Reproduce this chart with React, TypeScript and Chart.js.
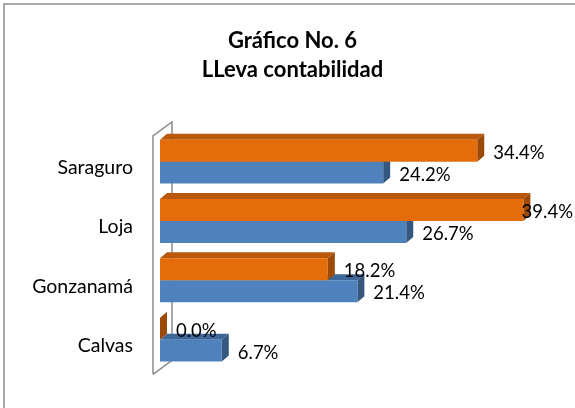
import React, { useEffect, useRef } from "react";
import { Chart, registerables } from "chart.js";

Chart.register(...registerables);

// ---- data ----
const categories = ["Saraguro", "Loja", "Gonzanamá", "Calvas"];
const seriesNames = ["Serie 1", "Serie 2"];
const serieNaranja = [34.4, 39.4, 18.2, 0.0];
const serieAzul = [24.2, 26.7, 21.4, 6.7];
const titleLines = ["Gráfico No. 6", "LLeva contabilidad"];

// ---- styles ----
const frontColors = ["#E46C0A", "#4F81BD"];
const topColors = ["#B9570A", "#3D6699"];
const sideColors = ["#9C4A07", "#36577F"];
const FONT = "Lato, 'Open Sans', sans-serif";
const DX = 7;
const DY = 6;

const threeDPlugin = {
  id: "threeD",
  beforeDatasetsDraw(chart: any) {
    const ctx = chart.ctx;
    const a = chart.chartArea;
    ctx.save();
    // 3D wall outline
    ctx.strokeStyle = "#8C8C8C";
    ctx.lineWidth = 1.5;
    const fx = a.left - 7;
    const bx = a.left + 12;
    ctx.beginPath();
    ctx.moveTo(fx, a.bottom + 5);
    ctx.lineTo(fx, a.top + 4);
    ctx.lineTo(bx, a.top - 10);
    ctx.lineTo(bx, a.bottom - 9);
    ctx.lineTo(fx, a.bottom + 5);
    ctx.stroke();
    // depth faces
    for (let d = chart.data.datasets.length - 1; d >= 0; d--) {
      const meta = chart.getDatasetMeta(d);
      meta.data.forEach((el: any) => {
        const p = el.getProps(["x", "y", "base", "height"], true);
        const top = p.y - p.height / 2;
        const bot = p.y + p.height / 2;
        ctx.fillStyle = topColors[d];
        ctx.beginPath();
        ctx.moveTo(p.base, top);
        ctx.lineTo(p.base + DX, top - DY);
        ctx.lineTo(p.x + DX, top - DY);
        ctx.lineTo(p.x, top);
        ctx.closePath();
        ctx.fill();
        ctx.fillStyle = sideColors[d];
        ctx.beginPath();
        ctx.moveTo(p.x, top);
        ctx.lineTo(p.x + DX, top - DY);
        ctx.lineTo(p.x + DX, bot - DY);
        ctx.lineTo(p.x, bot);
        ctx.closePath();
        ctx.fill();
      });
    }
    ctx.restore();
  },
  afterDatasetsDraw(chart: any) {
    const ctx = chart.ctx;
    ctx.save();
    ctx.font = `18.5px ${FONT}`;
    ctx.fillStyle = "#000";
    ctx.textBaseline = "middle";
    ctx.textAlign = "left";
    chart.data.datasets.forEach((ds: any, d: number) => {
      const meta = chart.getDatasetMeta(d);
      meta.data.forEach((el: any, i: number) => {
        const p = el.getProps(["x", "y"], true);
        const txt = Number(ds.data[i]).toFixed(1) + "%";
        const w = ctx.measureText(txt).width;
        const lx = Math.min(p.x + 16, chart.width - 2 - w);
        ctx.fillText(txt, lx, p.y + 2);
      });
    });
    ctx.restore();
  },
  afterDraw(chart: any) {
    const ctx = chart.ctx;
    ctx.save();
    ctx.strokeStyle = "#8C8C8C";
    ctx.lineWidth = 1.5;
    ctx.beginPath();
    ctx.moveTo(4, chart.height + 2);
    ctx.lineTo(4, 4);
    ctx.lineTo(chart.width + 2, 4);
    ctx.stroke();
    ctx.restore();
  },
};

export default function App() {
  const ref = useRef<HTMLCanvasElement | null>(null);
  useEffect(() => {
    if (!ref.current) return;
    const chart = new Chart(ref.current, {
      type: "bar",
      data: {
        labels: categories,
        datasets: [
          {
            label: seriesNames[0],
            data: serieNaranja,
            backgroundColor: frontColors[0],
            barPercentage: 1,
            categoryPercentage: 0.74,
          },
          {
            label: seriesNames[1],
            data: serieAzul,
            backgroundColor: frontColors[1],
            barPercentage: 1,
            categoryPercentage: 0.74,
          },
        ],
      },
      options: {
        indexAxis: "y",
        responsive: false,
        animation: false,
        layout: { padding: { top: 4, left: 10, right: 0, bottom: 37 } },
        plugins: {
          legend: { display: false },
          tooltip: { enabled: false },
          title: {
            display: true,
            text: titleLines,
            color: "#000",
            font: { family: FONT, size: 22, weight: "bold", lineHeight: 29 / 22 },
            padding: { top: 22, bottom: 48 },
          },
        },
        scales: {
          x: { display: false, min: 0, max: 45 },
          y: {
            grid: { display: false, drawTicks: false },
            border: { display: false },
            ticks: {
              color: "#000",
              font: { family: FONT, size: 19.5 },
              padding: 27,
              labelOffset: 6,
            },
            afterFit: (scale: any) => {
              scale.width = 150;
            },
          },
        },
      },
      plugins: [threeDPlugin],
    });
    return () => chart.destroy();
  }, []);
  return (
    <div style={{ position: "fixed", left: 0, top: 0, width: 575, height: 408, background: "#fff" }}>
      <canvas ref={ref} width={575} height={408} style={{ display: "block" }} />
    </div>
  );
}
